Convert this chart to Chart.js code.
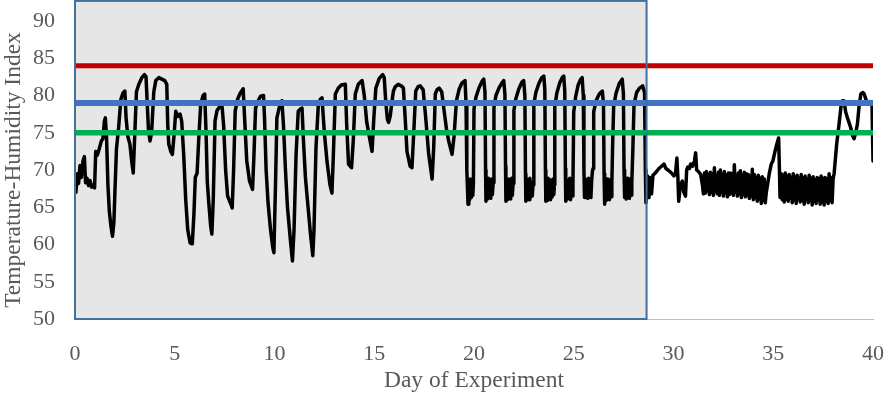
<!DOCTYPE html>
<html><head><meta charset="utf-8">
<script src="https://cdn.jsdelivr.net/npm/chart.js@4.4.1/dist/chart.umd.min.js"></script>
<style>html,body{margin:0;padding:0;background:#fff;}#wrap{width:886px;height:396px;}</style>
</head><body><div id="wrap"><canvas id="c" width="886" height="396"></canvas></div>
<script>
// [day, THI] readings
const readings = [
[0.0,67.0],[0.05,67.2],[0.12,69.5],[0.18,68.2],[0.25,70.6],[0.32,69.0],[0.4,71.2],[0.47,71.8],[0.53,68.3],[0.6,68.9],
[0.68,67.9],[0.75,68.6],[0.83,67.7],[0.92,68.0],[0.98,67.6],[1.04,72.5],[1.12,72.0],[1.22,72.9],[1.32,73.9],[1.4,74.2],
[1.47,76.5],[1.52,77.0],[1.58,74.5],[1.65,68],[1.72,64.5],[1.8,62.5],[1.88,61.1],[1.95,63],[2.0,67],[2.08,72.9],
[2.18,75.5],[2.3,79.5],[2.4,80.3],[2.5,80.6],[2.56,77],[2.65,74.5],[2.75,73.5],[2.85,71],[2.92,69.6],[3.0,75],
[3.08,80.5],[3.2,81.5],[3.35,82.4],[3.48,82.8],[3.56,82.5],[3.62,79],[3.68,75.5],[3.76,73.9],[3.84,75],[3.95,80.5],
[4.05,82],[4.2,82.4],[4.35,82.2],[4.5,82.0],[4.6,81.5],[4.65,76],[4.7,73.5],[4.8,72.5],[4.88,72.1],[4.96,74.5],
[5.05,77.9],[5.15,77.2],[5.27,77.5],[5.35,76.5],[5.45,72],[5.55,66],[5.65,62],[5.77,60.2],[5.88,60.1],[5.96,64],
[6.03,69],[6.12,69.6],[6.2,74],[6.3,78.8],[6.42,80.0],[6.5,80.2],[6.57,75],[6.63,68.5],[6.7,65.8],[6.8,62.5],
[6.86,61.4],[6.93,66],[7.02,76.6],[7.12,78.0],[7.25,78.5],[7.36,78.9],[7.45,76],[7.55,70],[7.65,66.5],[7.8,65.5],
[7.88,64.9],[7.95,70],[8.03,77.9],[8.15,79.5],[8.28,80.3],[8.43,80.9],[8.52,76],[8.61,71.2],[8.75,68.5],[8.9,67.4],
[8.97,72],[9.05,78.3],[9.18,79.3],[9.3,79.9],[9.45,80.0],[9.5,77],[9.58,70],[9.68,65.5],[9.8,62],[9.92,59.5],
[9.97,58.9],[10.05,68],[10.12,77],[10.25,78.5],[10.37,79.3],[10.45,76],[10.55,70],[10.65,65],[10.8,60.5],[10.9,57.8],
[10.98,62],[11.08,72],[11.19,77.9],[11.3,78.2],[11.38,78.3],[11.45,74],[11.55,69],[11.65,66],[11.8,61.5],[11.92,58.5],
[11.98,62],[12.08,73],[12.2,78.9],[12.3,79.5],[12.38,79.7],[12.5,75],[12.63,71.2],[12.78,68],[12.88,66.9],[12.95,72],
[13.05,80.2],[13.2,81],[13.35,81.4],[13.55,81.5],[13.62,76],[13.71,70.8],[13.86,70.3],[13.95,74],[14.05,80.2],[14.2,81.5],
[14.39,82],[14.5,80],[14.62,76.5],[14.75,74.5],[14.89,72.5],[14.98,77],[15.08,81],[15.25,82.3],[15.42,82.8],[15.5,82.4],
[15.58,79],[15.66,76.8],[15.72,76.4],[15.8,77.2],[15.88,79],[15.96,80.6],[16.06,81.2],[16.2,81.5],[16.35,81.3],[16.46,81],
[16.55,77],[16.64,72.5],[16.8,70.5],[16.89,70.3],[16.98,75],[17.08,80.6],[17.2,81.2],[17.3,81.3],[17.45,80.8],[17.58,77],
[17.73,72.1],[17.9,68.8],[17.98,73],[18.06,80.2],[18.15,80.8],[18.25,81],[18.38,80.5],[18.5,78],[18.62,75.5],[18.73,73.9],
[18.9,72.1],[19.0,74.5],[19.12,79.3],[19.25,80.8],[19.4,81.7],[19.55,82],[19.6,79],[19.64,70],[19.7,65.4],
[19.74,68.6],[19.78,66.0],[19.82,68.8],[19.86,66.3],[19.9,68.5],[19.94,66.6],[19.97,68.2],
[20.0,78.2],[20.1,79.8],[20.25,81.0],[20.4,81.9],[20.49,82.2],[20.55,80.5],[20.58,70],[20.6,65.8],
[20.64,68.7],[20.68,66.1],[20.72,68.9],[20.76,66.4],[20.8,68.5],[20.84,66.2],[20.88,68.8],[20.92,66.7],[20.96,68.3],
[21.0,78.4],[21.1,80.0],[21.25,81.0],[21.4,81.7],[21.49,82.0],[21.55,80.2],[21.58,70.5],[21.6,65.8],
[21.64,68.5],[21.68,66.0],[21.72,68.8],[21.76,66.3],[21.8,68.6],[21.84,66.1],[21.88,68.9],[21.92,66.6],[21.96,68.2],
[22.0,78.0],[22.1,79.6],[22.25,80.9],[22.4,81.8],[22.49,82.0],[22.55,80.0],[22.58,69.5],[22.6,65.8],
[22.64,68.8],[22.68,66.2],[22.72,68.6],[22.76,66.0],[22.8,68.9],[22.84,66.4],[22.88,68.4],[22.92,66.5],[22.96,68.0],
[23.0,78.8],[23.1,80.4],[23.25,81.6],[23.4,82.4],[23.5,82.6],[23.55,80.8],[23.58,70.0],[23.6,65.8],
[23.64,68.6],[23.68,65.9],[23.72,68.9],[23.76,66.2],[23.8,68.7],[23.84,66.0],[23.88,68.5],[23.92,66.4],[23.96,68.8],[24.0,66.7],[24.03,68.0],
[24.05,78.5],[24.15,80.3],[24.3,81.7],[24.42,82.4],[24.5,82.6],[24.55,80.6],[24.58,70.2],[24.6,65.8],
[24.64,68.7],[24.68,66.1],[24.72,68.5],[24.76,66.3],[24.8,68.9],[24.84,66.0],[24.88,68.6],[24.92,66.5],[24.96,68.2],
[25.0,77.8],[25.1,79.9],[25.22,81.4],[25.35,82.2],[25.42,82.4],[25.48,80.0],[25.51,70.0],[25.54,66.3],
[25.58,68.8],[25.62,66.4],[25.66,68.6],[25.7,66.2],[25.74,68.9],[25.78,66.6],[25.82,68.5],[25.86,66.3],[25.9,68.7],
[25.94,69.9],[25.97,70.2],[26.0,77.8],[26.12,79.3],[26.28,80.2],[26.43,80.6],[26.49,79.0],[26.52,69.5],[26.55,65.4],
[26.59,68.6],[26.63,65.9],[26.67,68.8],[26.71,66.2],[26.75,68.5],[26.79,66.0],[26.83,68.7],[26.87,66.4],[26.91,68.3],
[26.95,73.5],[27.0,78.5],[27.12,80.3],[27.28,81.6],[27.43,82.2],[27.49,80.2],[27.52,70.0],[27.55,66.3],
[27.59,68.7],[27.63,66.1],[27.67,68.9],[27.71,66.4],[27.75,68.6],[27.79,66.2],[27.83,68.8],[27.87,66.6],[27.91,68.4],
[27.96,72.5],[28.02,78.8],[28.15,80.4],[28.3,81.0],[28.45,81.3],[28.55,80.4],[28.59,70.0],[28.62,65.6],
[28.66,68.5],[28.7,69.2],[28.77,66.3],[28.82,69.0],[28.9,66.8],[28.97,69.3],[29.05,69.5],[29.15,69.8],[29.27,70.2],[29.4,70.5],
[29.52,70.8],[29.62,70.2],[29.77,69.9],[29.9,69.6],[30.02,69.2],[30.1,69.5],[30.17,71.6],[30.22,69],[30.26,65.8],[30.35,68.0],
[30.44,68.5],[30.52,67.0],[30.6,66.5],[30.66,70.0],[30.72,70.4],[30.8,70.2],[30.86,70.8],[30.95,70.5],[31.05,71.2],[31.11,72.3],
[31.16,70.0],[31.25,69.8],[31.36,69.4],[31.45,68.0],[31.5,66.8],
[31.55,69.6],[31.6,66.9],[31.65,69.8],[31.7,67.2],[31.75,69.4],[31.8,66.7],[31.85,69.7],[31.9,67.0],[31.95,69.5],[32.0,66.6],
[32.05,70.3],[32.1,67.1],[32.15,69.2],[32.2,66.8],[32.25,69.7],[32.3,66.6],[32.35,70.0],[32.4,67.0],[32.45,69.4],[32.5,66.5],
[32.55,69.8],[32.6,66.9],[32.65,69.3],[32.7,66.4],[32.75,69.6],[32.8,66.7],[32.85,69.6],[32.9,66.9],[32.95,69.5],[33.0,66.6],
[33.05,70.7],[33.1,67.0],[33.15,69.1],[33.2,66.5],[33.25,69.6],[33.3,66.8],[33.35,69.9],[33.4,66.3],[33.45,69.3],[33.5,66.7],
[33.55,69.7],[33.6,66.4],[33.65,69.5],[33.7,66.6],[33.75,69.4],[33.8,66.2],[33.85,69.2],[33.9,66.5],[33.95,70.1],[34.0,66.0],
[34.05,69.4],[34.1,66.3],[34.15,69.0],[34.2,65.8],[34.25,69.3],[34.3,66.1],[34.35,68.9],[34.4,65.5],[34.45,69.1],[34.5,65.9],
[34.55,68.8],[34.6,65.6],[34.65,67.0],
[34.7,67.8],[34.8,69.5],[34.9,70.8],[34.98,71.2],[35.08,72.4],[35.18,73.5],[35.27,74.3],[35.31,70],[35.34,66.3],
[35.4,69.5],[35.45,66.0],[35.5,69.3],[35.55,65.7],[35.6,69.6],[35.65,66.1],[35.7,69.2],[35.75,65.8],[35.8,69.4],[35.85,66.2],
[35.9,69.0],[35.95,65.6],[36.0,69.5],[36.05,66.0],[36.1,69.1],[36.15,65.5],[36.2,69.3],[36.25,66.1],[36.3,68.9],[36.35,65.7],
[36.4,69.4],[36.45,65.9],[36.5,69.0],[36.55,65.4],[36.6,69.2],[36.65,66.0],[36.7,68.8],[36.75,65.6],[36.8,69.3],[36.85,65.9],
[36.9,68.9],[36.95,65.3],[37.0,69.1],[37.05,65.8],[37.1,68.7],[37.15,65.5],[37.2,69.0],[37.25,66.0],[37.3,68.8],[37.35,65.4],
[37.4,69.2],[37.45,65.7],[37.5,68.9],[37.55,65.3],[37.6,69.0],[37.65,65.8],[37.7,68.8],[37.75,65.5],[37.8,69.5],[37.85,65.9],
[37.9,69.0],[37.95,65.6],[38.0,68.8],
[38.05,69.5],[38.18,73.5],[38.3,76.2],[38.4,78.6],[38.47,79.3],[38.55,79.3],[38.63,77.8],[38.72,77.0],[38.88,75.7],[38.98,74.6],
[39.05,74.2],[39.15,75.2],[39.22,76.2],[39.3,78.5],[39.39,80.2],[39.5,80.4],[39.56,80.2],[39.64,79.5],[39.72,79.0],[39.85,79.2],
[39.95,79.0],[40.0,71.2]
];
const thresholds = [84, 79, 75];
const shadedDays = [0, 28.65];
const shadedTop = 92.7;
const xLimits = [0, 40];
const yLimits = [50, 90];
const tickStep = 5;
const xTitle = 'Day of Experiment';
const yTitle = 'Temperature-Humidity Index';

const lineColors = ['#C00000', '#4472C4', '#00B050'];
const lineWidths = [5, 6, 5.5];

Chart.defaults.font.family = "'Liberation Serif','Times New Roman',serif";
Chart.defaults.color = '#595959';

function boxRect(chart){
  const {x, y} = chart.scales;
  const l = x.getPixelForValue(shadedDays[0]), r = x.getPixelForValue(shadedDays[1]);
  const t = y.getPixelForValue(shadedTop), b = y.getPixelForValue(yLimits[0]);
  return {l, r, t, b};
}
const shadePlugin = {
  id: 'shade',
  beforeDatasetsDraw(chart){
    const {l, r, t, b} = boxRect(chart);
    const ctx = chart.ctx;
    ctx.save(); ctx.fillStyle = '#E6E6E6'; ctx.fillRect(l, t, r - l, b - t); ctx.restore();
  },
  afterDatasetsDraw(chart){
    const {l, r, t, b} = boxRect(chart);
    const ctx = chart.ctx;
    ctx.save(); ctx.strokeStyle = '#41719C'; ctx.lineWidth = 2; ctx.strokeRect(l, t, r - l, b - t); ctx.restore();
  }
};

new Chart(document.getElementById('c'), {
  type: 'scatter',
  data: {
    datasets: [
      {data: readings.map(([x, y]) => ({x, y})), showLine: true, borderColor: '#000000', borderWidth: 3.5,
       pointRadius: 0, tension: 0, borderJoinStyle: 'round', borderCapStyle: 'round', order: 2},
      ...thresholds.map((v, i) => ({data: [{x: xLimits[0], y: v}, {x: xLimits[1], y: v}], showLine: true,
        borderColor: lineColors[i], borderWidth: lineWidths[i], pointRadius: 0, order: 1}))
    ]
  },
  options: {
    responsive: false, animation: false, devicePixelRatio: 1,
    layout: {padding: {top: 21, right: 13, left: 0, bottom: 0}},
    plugins: {legend: {display: false}, tooltip: {enabled: false}},
    scales: {
      x: {type: 'linear', min: xLimits[0], max: xLimits[1],
        ticks: {stepSize: tickStep, color: '#595959', font: {size: 22}, padding: 0, maxRotation: 0},
        grid: {display: false, drawTicks: true, tickLength: 22},
        border: {display: true, color: '#BFBFBF', width: 1},
        title: {display: true, text: xTitle, color: '#595959', font: {size: 23.5}, padding: {top: 0, bottom: 1}},
        afterFit(s){ s.height = 77; }
      },
      y: {min: yLimits[0], max: yLimits[1],
        ticks: {stepSize: tickStep, color: '#595959', font: {size: 22}, padding: 0},
        grid: {display: false, drawTicks: true, tickLength: 20},
        border: {display: false},
        title: {display: true, text: yTitle, color: '#595959', font: {size: 23.5}, padding: {top: 0, bottom: 0}},
        afterFit(s){ s.width = 75; }
      }
    }
  },
  plugins: [shadePlugin]
});
</script></body></html>
